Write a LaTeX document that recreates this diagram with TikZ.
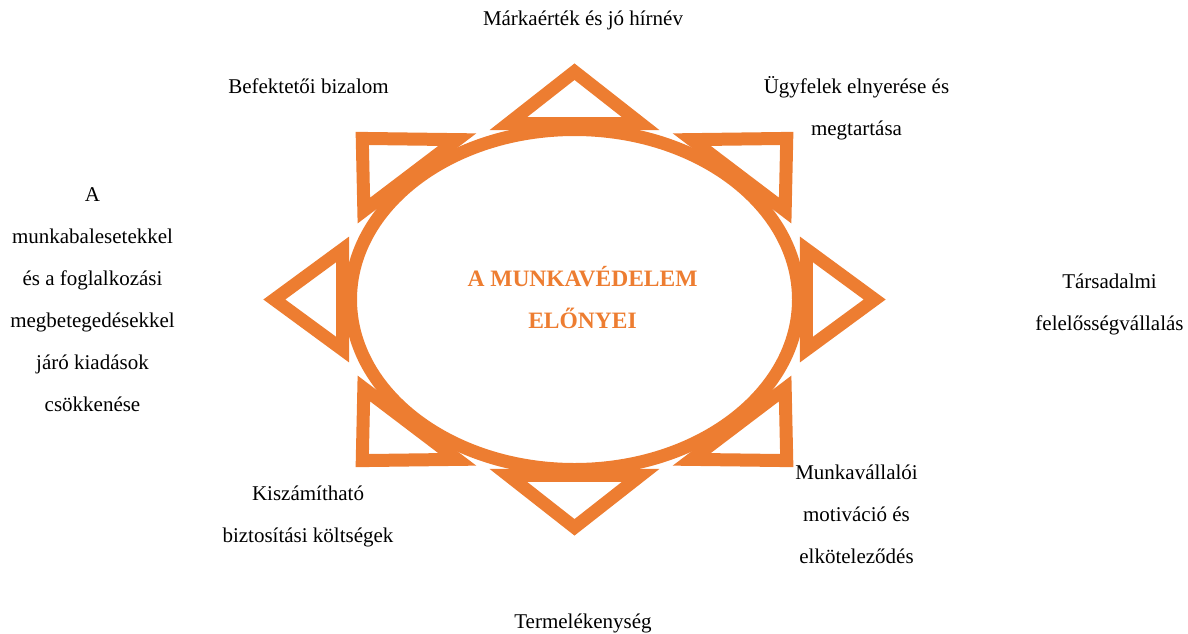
\documentclass[tikz,border=0pt]{standalone}
\usepackage{fontspec}
\setmainfont{Liberation Serif}
\usetikzlibrary{calc}
\definecolor{sunorange}{HTML}{ED7D31}
\tikzset{
  lbl/.style={anchor=base, align=center, inner sep=0pt, text=black,
              font=\fontsize{21}{42}\selectfont},
  titlelbl/.style={anchor=base, align=center, inner sep=0pt, text=sunorange,
              font=\fontsize{23.5}{42}\selectfont\bfseries},
  sunline/.style={draw=sunorange, line width=13pt, miter limit=10}
}
\begin{document}
\begin{tikzpicture}[x=1pt, y=-1pt]
  \useasboundingbox (0,0) rectangle (1188,633);
  % sun shape
  \coordinate (sunc) at (574.5,299.5);
  \draw[sunline] (sunc) ellipse [x radius=224pt, y radius=170pt];
  \begin{scope}[shift={(574.5,299.5)}, x=224pt, y=170pt]
    \foreach \a in {0,45,...,315}{
      \draw[sunline] (\a:1.34) -- ($(\a:1.035)+(\a+90:0.295)$)
        -- ($(\a:1.035)+(\a-90:0.295)$) -- cycle;
    }
  \end{scope}
  % labels (base anchor = baseline of the last line)
  \node[titlelbl] (center) at (582.5,328) {A MUNKAVÉDELEM\\ELŐNYEI};
  \node[lbl] (ltop) at (583,25) {Márkaérték és jó hírnév};
  \node[lbl] (ltl) at (308.5,93) {Befektetői bizalom};
  \node[lbl] (ltr) at (856.5,135) {Ügyfelek elnyerése és\\megtartása};
  \node[lbl] (lleft) at (92.5,411) {A\\munkabalesetekkel\\és a foglalkozási\\megbetegedésekkel\\járó kiadások\\csökkenése};
  \node[lbl] (lright) at (1109.5,330) {Társadalmi\\felelősségvállalás};
  \node[lbl] (lbl) at (308,542) {Kiszámítható\\biztosítási költségek};
  \node[lbl] (lbr) at (856.5,563) {Munkavállalói\\motiváció és\\elköteleződés};
  \node[lbl] (lbottom) at (583,628) {Termelékenység};
\end{tikzpicture}
\end{document}
